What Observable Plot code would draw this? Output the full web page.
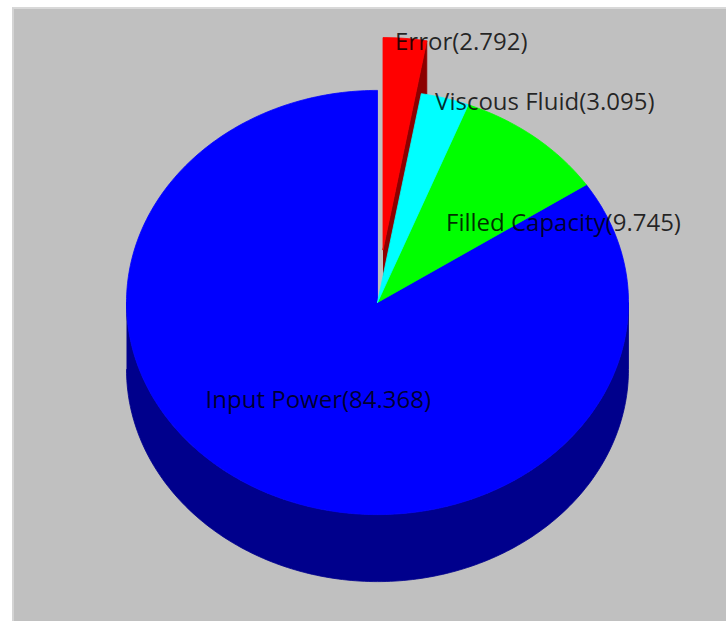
<!DOCTYPE html>
<html>
<head>
<meta charset="utf-8">
<script src="https://cdn.jsdelivr.net/npm/d3@7"></script>
<script src="https://cdn.jsdelivr.net/npm/@observablehq/plot@0.6"></script>
<style>
  html, body { margin: 0; padding: 0; background: #ffffff; }
  #panel {
    position: absolute; left: 12px; top: 7px; width: 714px; height: 614px;
    background: #c0c0c0; box-sizing: border-box;
    border-left: 2px solid #d4d4d4; border-top: 2px solid #d8d8d8;
  }
  #chart { position: absolute; left: 0; top: 0; }
</style>
</head>
<body>
<div id="panel"></div>
<div id="chart"></div>
<script>
// Energy balance shares
const slices = ["Input Power", "Filled Capacity", "Viscous Fluid", "Error"];
const values = [84.368, 9.745, 3.095, 2.792];
const explodedSlice = "Error";

// Pie geometry in model units (radius 1): vertical squash of the top face,
// wall height and how far the exploded slice is pulled out.
const tilt = 0.845;
const depth = 0.267;
const pull = 0.25;
const step = Math.PI / 180;

const total = d3.sum(values);

// Slices run counter-clockwise, starting and ending at 12 o'clock.
let start = Math.PI / 2;
const layout = slices.map((name, i) => {
  const a0 = start;
  const a1 = start + (values[i] / total) * 2 * Math.PI;
  start = a1;
  const mid = (a0 + a1) / 2;
  const off = name === explodedSlice ? pull : 0;
  return { name, value: values[i], a0, a1, mid, ox: off * Math.cos(mid), oy: off * Math.sin(mid) };
});

const proj = (u, v, z) => ({ x: u, y: v * tilt - z * depth });

function arc(s, t0, t1, z) {
  const n = Math.max(2, Math.ceil(Math.abs(t1 - t0) / step));
  return d3.range(n + 1).map(i => {
    const t = t0 + (t1 - t0) * i / n;
    return proj(s.ox + Math.cos(t), s.oy + Math.sin(t), z);
  });
}

function topFace(s) {
  return [proj(s.ox, s.oy, 0), ...arc(s, s.a0, s.a1, 0), proj(s.ox, s.oy, 0)];
}

// Visible outer wall: the part of the rim that faces the viewer.
function rimWalls(s) {
  const out = [];
  for (const lo of [Math.PI, 3 * Math.PI]) {
    const t0 = Math.max(s.a0, lo), t1 = Math.min(s.a1, lo + Math.PI);
    if (t1 > t0) out.push([...arc(s, t0, t1, 0), ...arc(s, t1, t0, 1)]);
  }
  return out;
}

// Flat cut faces of a pulled-out slice, kept only when they face the viewer.
function cutFaces(s) {
  const out = [];
  for (const [edge, normal] of [[s.a0, s.a0 - Math.PI / 2], [s.a1, s.a1 + Math.PI / 2]]) {
    if (Math.sin(normal) < -1e-6) {
      const rx = s.ox + Math.cos(edge), ry = s.oy + Math.sin(edge);
      out.push([proj(s.ox, s.oy, 0), proj(rx, ry, 0), proj(rx, ry, 1), proj(s.ox, s.oy, 1)]);
    }
  }
  return out;
}

function rows(list, key) {
  return list.flatMap((pts, k) => pts.map(p => ({ ...p, key, id: key + "#" + k })));
}

const pulled = layout.filter(s => s.name === explodedSlice);
const seated = layout.filter(s => s.name !== explodedSlice);

const pulledSides = pulled.flatMap(s => rows([...cutFaces(s), ...rimWalls(s)], s.name + " side"));
const pulledTops = pulled.flatMap(s => rows([topFace(s)], s.name));
const seatedSides = seated.flatMap(s => rows(rimWalls(s), s.name + " side"));
const seatedTops = seated.flatMap(s => rows([topFace(s)], s.name));

// Labels: thin slices are named at the rim, the others inside the face.
const labels = layout.map(s => {
  const outer = s.value / total < 0.05;
  const r = outer ? 1 : 0.5;
  const p = proj(s.ox + r * Math.cos(s.mid), s.oy + r * Math.sin(s.mid), 0);
  return {
    text: `${s.name}(${s.value})`,
    x: p.x, y: p.y,
    anchor: outer || Math.cos(s.mid) > 0 ? "start" : "middle"
  };
});

const colorDomain = [...slices, ...slices.map(d => d + " side")];
const colorRange = ["#0000ff", "#00ff00", "#00ffff", "#ff0000",
                    "#00008c", "#008c00", "#008c8c", "#8c0000"];

const face = (data) => Plot.line(data, {
  x: "x", y: "y", z: "id", fill: "key", stroke: "key", strokeWidth: 0.8, curve: "linear"
});

const labelText = (anchor, dx) => Plot.text(labels.filter(d => d.anchor === anchor), {
  x: "x", y: "y", text: "text",
  textAnchor: anchor, dx, dy: 4,
  fill: "#000", fillOpacity: 0.82,
  fontSize: 24, fontFamily: "Open Sans, sans-serif"
});

const chart = Plot.plot({
  width: 726,
  height: 621,
  margin: 0,
  x: { domain: [-377 / 251, 349 / 251], range: [0, 726], axis: null },
  y: { domain: [-319 / 251, 302 / 251], range: [621, 0], axis: null },
  color: { type: "ordinal", domain: colorDomain, range: colorRange },
  style: { background: "transparent", overflow: "visible" },
  marks: [
    face(pulledSides),
    face(pulledTops),
    face(seatedSides),
    face(seatedTops),
    labelText("start", -10),
    labelText("middle", 0)
  ]
});

document.getElementById("chart").appendChild(chart);
</script>
</body>
</html>
